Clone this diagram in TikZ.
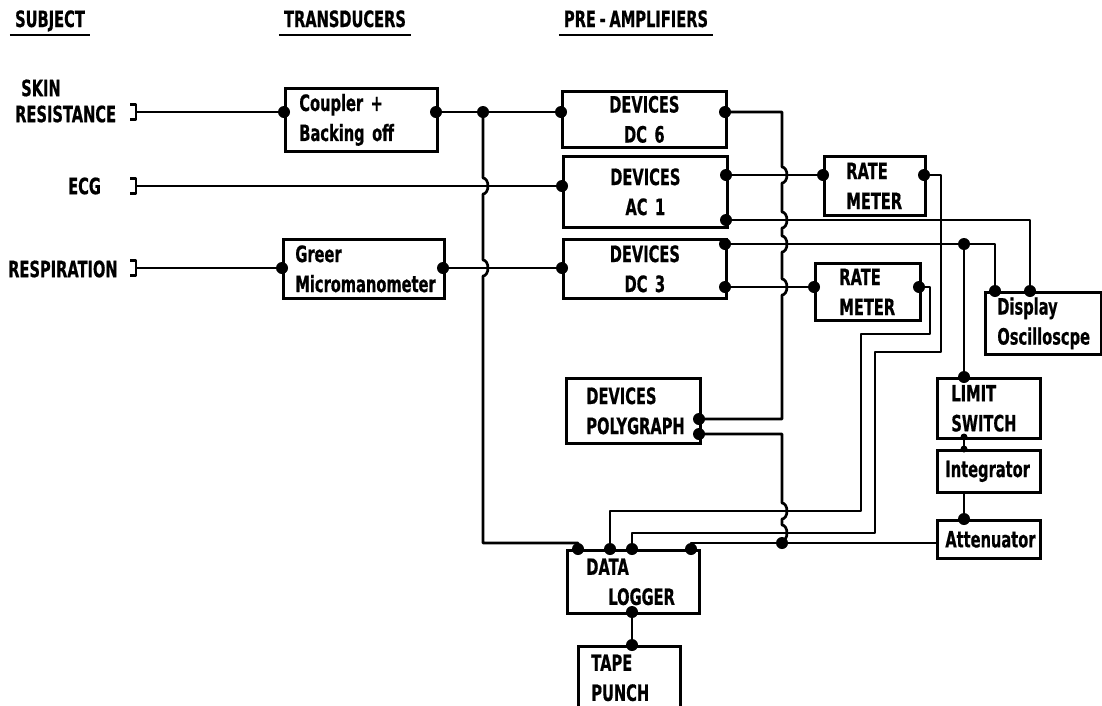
\documentclass[tikz,border=0pt]{standalone}
\usepackage{fontspec}
\setmainfont[FakeStretch=0.65, BoldFeatures={FakeBold=0.6}]{DejaVu Sans}
\usetikzlibrary{calc}

\newcommand{\lblfont}{\fontsize{22.5}{30}\selectfont\bfseries}
% vertical wire jumping over a horizontal one
\newcommand{\hopat}[2]{-- ($(#1 |- #2)+(0,8)$) arc[start angle=90, end angle=-90, x radius=5, y radius=8]}

\tikzset{
    wire/.style={line width=2.7pt, line join=round},
    box/.style={draw, line width=2.7pt, anchor=north west, inner sep=0pt, align=left, font=\lblfont},
    lbl/.style={inner sep=0pt, font=\lblfont},
}

\begin{document}
\begin{tikzpicture}[x=1pt, y=1pt]
    \useasboundingbox (0,0) rectangle (1102,-705);

    % Column headings
    \node[lbl, anchor=base] (h-subj) at (50,-27) {SUBJECT};
    \node[lbl, anchor=base] (h-trans) at (345,-27) {TRANSDUCERS};
    \node[lbl, anchor=base] (h-pre) at (636,-27) {PRE\,-\,AMPLIFIERS};
    \foreach \h in {h-subj, h-trans, h-pre}
        \draw[line width=2.4pt] ([xshift=-5pt,yshift=-8pt]\h.base west) -- ([xshift=5pt,yshift=-8pt]\h.base east);

    % Subject signals
    \node[lbl, anchor=west] (l-skin) at (21,-88) {SKIN};
    \node[lbl, anchor=west] (l-res) at (15,-114) {RESISTANCE};
    \node[lbl, anchor=west] (l-ecg) at (68,-186) {ECG};
    \node[lbl, anchor=west] (l-resp) at (8,-269) {RESPIRATION};

    \coordinate (skin) at (136,-112);
    \coordinate (ecg) at (136,-186);
    \coordinate (resp) at (136,-268);
    \foreach \s in {skin, ecg, resp}
        \draw[wire] ($(\s)+(-6,7.5)$) -- ($(\s)+(0,7.5)$) -- ($(\s)+(0,-7.5)$) -- ($(\s)+(-6,-7.5)$);

    % Transducers
    \node[box, minimum width=152pt, minimum height=63pt, text width=124pt] (coupler) at (284,-87) {Coupler +\\Backing off};
    \node[box, minimum width=161pt, minimum height=59pt, text width=137pt] (greer) at (282,-238) {Greer\\Micromanometer};

    % Pre-amplifiers
    \node[box, align=center, minimum width=164pt, minimum height=56pt, text width=164pt] (dc6) at (561,-90) {DEVICES\\DC 6};
    \node[box, align=center, minimum width=164pt, minimum height=71pt, text width=164pt] (ac1) at (562,-155) {DEVICES\\AC 1};
    \node[box, align=center, minimum width=163pt, minimum height=59pt, text width=163pt] (dc3) at (562,-238) {DEVICES\\DC 3};
    \node[box, minimum width=134pt, minimum height=65pt, text width=94pt] (poly) at (565,-377) {DEVICES\\POLYGRAPH};

    % Rate meters and display
    \node[box, minimum width=101pt, minimum height=59pt, text width=57pt] (rm1) at (823,-155) {RATE\\METER};
    \node[box, minimum width=105pt, minimum height=57pt, text width=57pt] (rm2) at (814,-262) {RATE\\METER};
    \node[box, minimum width=116pt, minimum height=62pt, text width=92pt] (disp) at (984,-291) {Display\\Oscilloscpe};

    % Limit chain
    \node[box, minimum width=103pt, minimum height=60pt, text width=75pt] (limit) at (936,-377) {LIMIT\\SWITCH};
    \node[box, minimum width=103pt, minimum height=42pt, text width=87pt] (integ) at (936,-449) {Integrator};
    \node[box, minimum width=103pt, minimum height=38pt, text width=87pt] (atten) at (936,-519) {Attenuator};

    % Recording
    \node[box, minimum width=132pt, minimum height=63pt, text width=94pt] (logger) at (566,-549) {DATA\\\hspace*{22pt}LOGGER};
    \node[box, minimum width=102pt, minimum height=63pt, text width=76pt] (tape) at (577,-645) {TAPE\\PUNCH};

    % Ports
    \coordinate (coupler-in) at (284,-112);
    \coordinate (coupler-out) at (436,-112);
    \coordinate (greer-in) at (282,-268);
    \coordinate (greer-out) at (443,-268);
    \coordinate (j1) at (483,-112);
    \coordinate (dc6-in) at (561,-112);
    \coordinate (dc6-out) at (725,-112);
    \coordinate (ac1-in) at (562,-186);
    \coordinate (ac1-o1) at (726,-175);
    \coordinate (ac1-o2) at (726,-220);
    \coordinate (dc3-in) at (562,-268);
    \coordinate (dc3-o1) at (725,-244);
    \coordinate (dc3-o2) at (725,-287);
    \coordinate (bus) at (782,-112);
    \coordinate (rm1-in) at (823,-175);
    \coordinate (rm1-out) at (924,-175);
    \coordinate (rm2-in) at (814,-287);
    \coordinate (rm2-out) at (919,-287);
    \coordinate (r1a) at (941,-352);
    \coordinate (r1b) at (875,-533);
    \coordinate (r2a) at (930,-334);
    \coordinate (r2b) at (861,-511);
    \coordinate (j2) at (964,-244);
    \coordinate (disp-a) at (995,-291);
    \coordinate (disp-b) at (1030,-291);
    \coordinate (poly-o1) at (699,-419);
    \coordinate (poly-o2) at (699,-434);
    \coordinate (limit-in) at (964,-377);
    \coordinate (limit-out) at (964,-437);
    \coordinate (integ-in) at (964,-449);
    \coordinate (integ-out) at (964,-491);
    \coordinate (atten-in) at (964,-519);
    \coordinate (atten-w) at (936,-543);
    \coordinate (jp) at (782,-543);
    \coordinate (log1) at (578,-549);
    \coordinate (log2) at (610,-549);
    \coordinate (log3) at (632,-549);
    \coordinate (log4) at (691,-549);
    \coordinate (log-out) at (632,-612);
    \coordinate (tape-in) at (632,-645);

    % Inputs
    \draw[wire] (skin) -- (coupler-in);
    \draw[wire] (ecg) -- (ac1-in);
    \draw[wire] (resp) -- (greer-in);
    \draw[wire] (coupler-out) -- (j1) -- (dc6-in);
    \draw[wire] (greer-out) -- (dc3-in);
    \draw[wire] (j1) \hopat{j1}{ecg} \hopat{j1}{resp} |- ($(log1)+(0,6)$) -- (log1);

    % Amplifier outputs
    \draw[wire] (dc6-out) -- (bus) \hopat{bus}{ac1-o1} \hopat{bus}{ac1-o2} \hopat{bus}{dc3-o1} \hopat{bus}{dc3-o2} |- (poly-o1);
    \draw[wire] (ac1-o1) -- (rm1-in);
    \draw[wire] (ac1-o2) -| (disp-b);
    \draw[wire] (dc3-o1) -- (j2) -| (disp-a);
    \draw[wire] (dc3-o2) -- (rm2-in);
    \draw[wire] (j2) -- (limit-in);

    % To the data logger
    \draw[wire] (rm1-out) -| (r1a) -| (r1b) -| (log3);
    \draw[wire] (rm2-out) -| (r2a) -| (r2b) -| (log2);
    \draw[wire] (poly-o2) -- (poly-o2 -| jp) \hopat{jp}{r2b} \hopat{jp}{r1b} -- (jp);
    \draw[wire] (atten-w) -| (log4);
    \draw[wire] (limit-out) -- (integ-in);
    \draw[wire] (integ-out) -- (atten-in);
    \draw[wire] (log-out) -- (tape-in);

    % Connection dots
    \foreach \p in {coupler-in, coupler-out, j1, dc6-in, dc6-out, ac1-in, ac1-o1, ac1-o2,
                    greer-in, greer-out, dc3-in, dc3-o1, dc3-o2, rm1-in, rm1-out, rm2-in, rm2-out,
                    j2, disp-a, disp-b, limit-in, poly-o1, poly-o2, atten-in, jp,
                    log1, log2, log3, log4, log-out, tape-in}
        \fill (\p) circle (6);
    \fill (limit-out) circle (3.5);
    \fill (integ-in) circle (3.5);

\end{tikzpicture}
\end{document}
